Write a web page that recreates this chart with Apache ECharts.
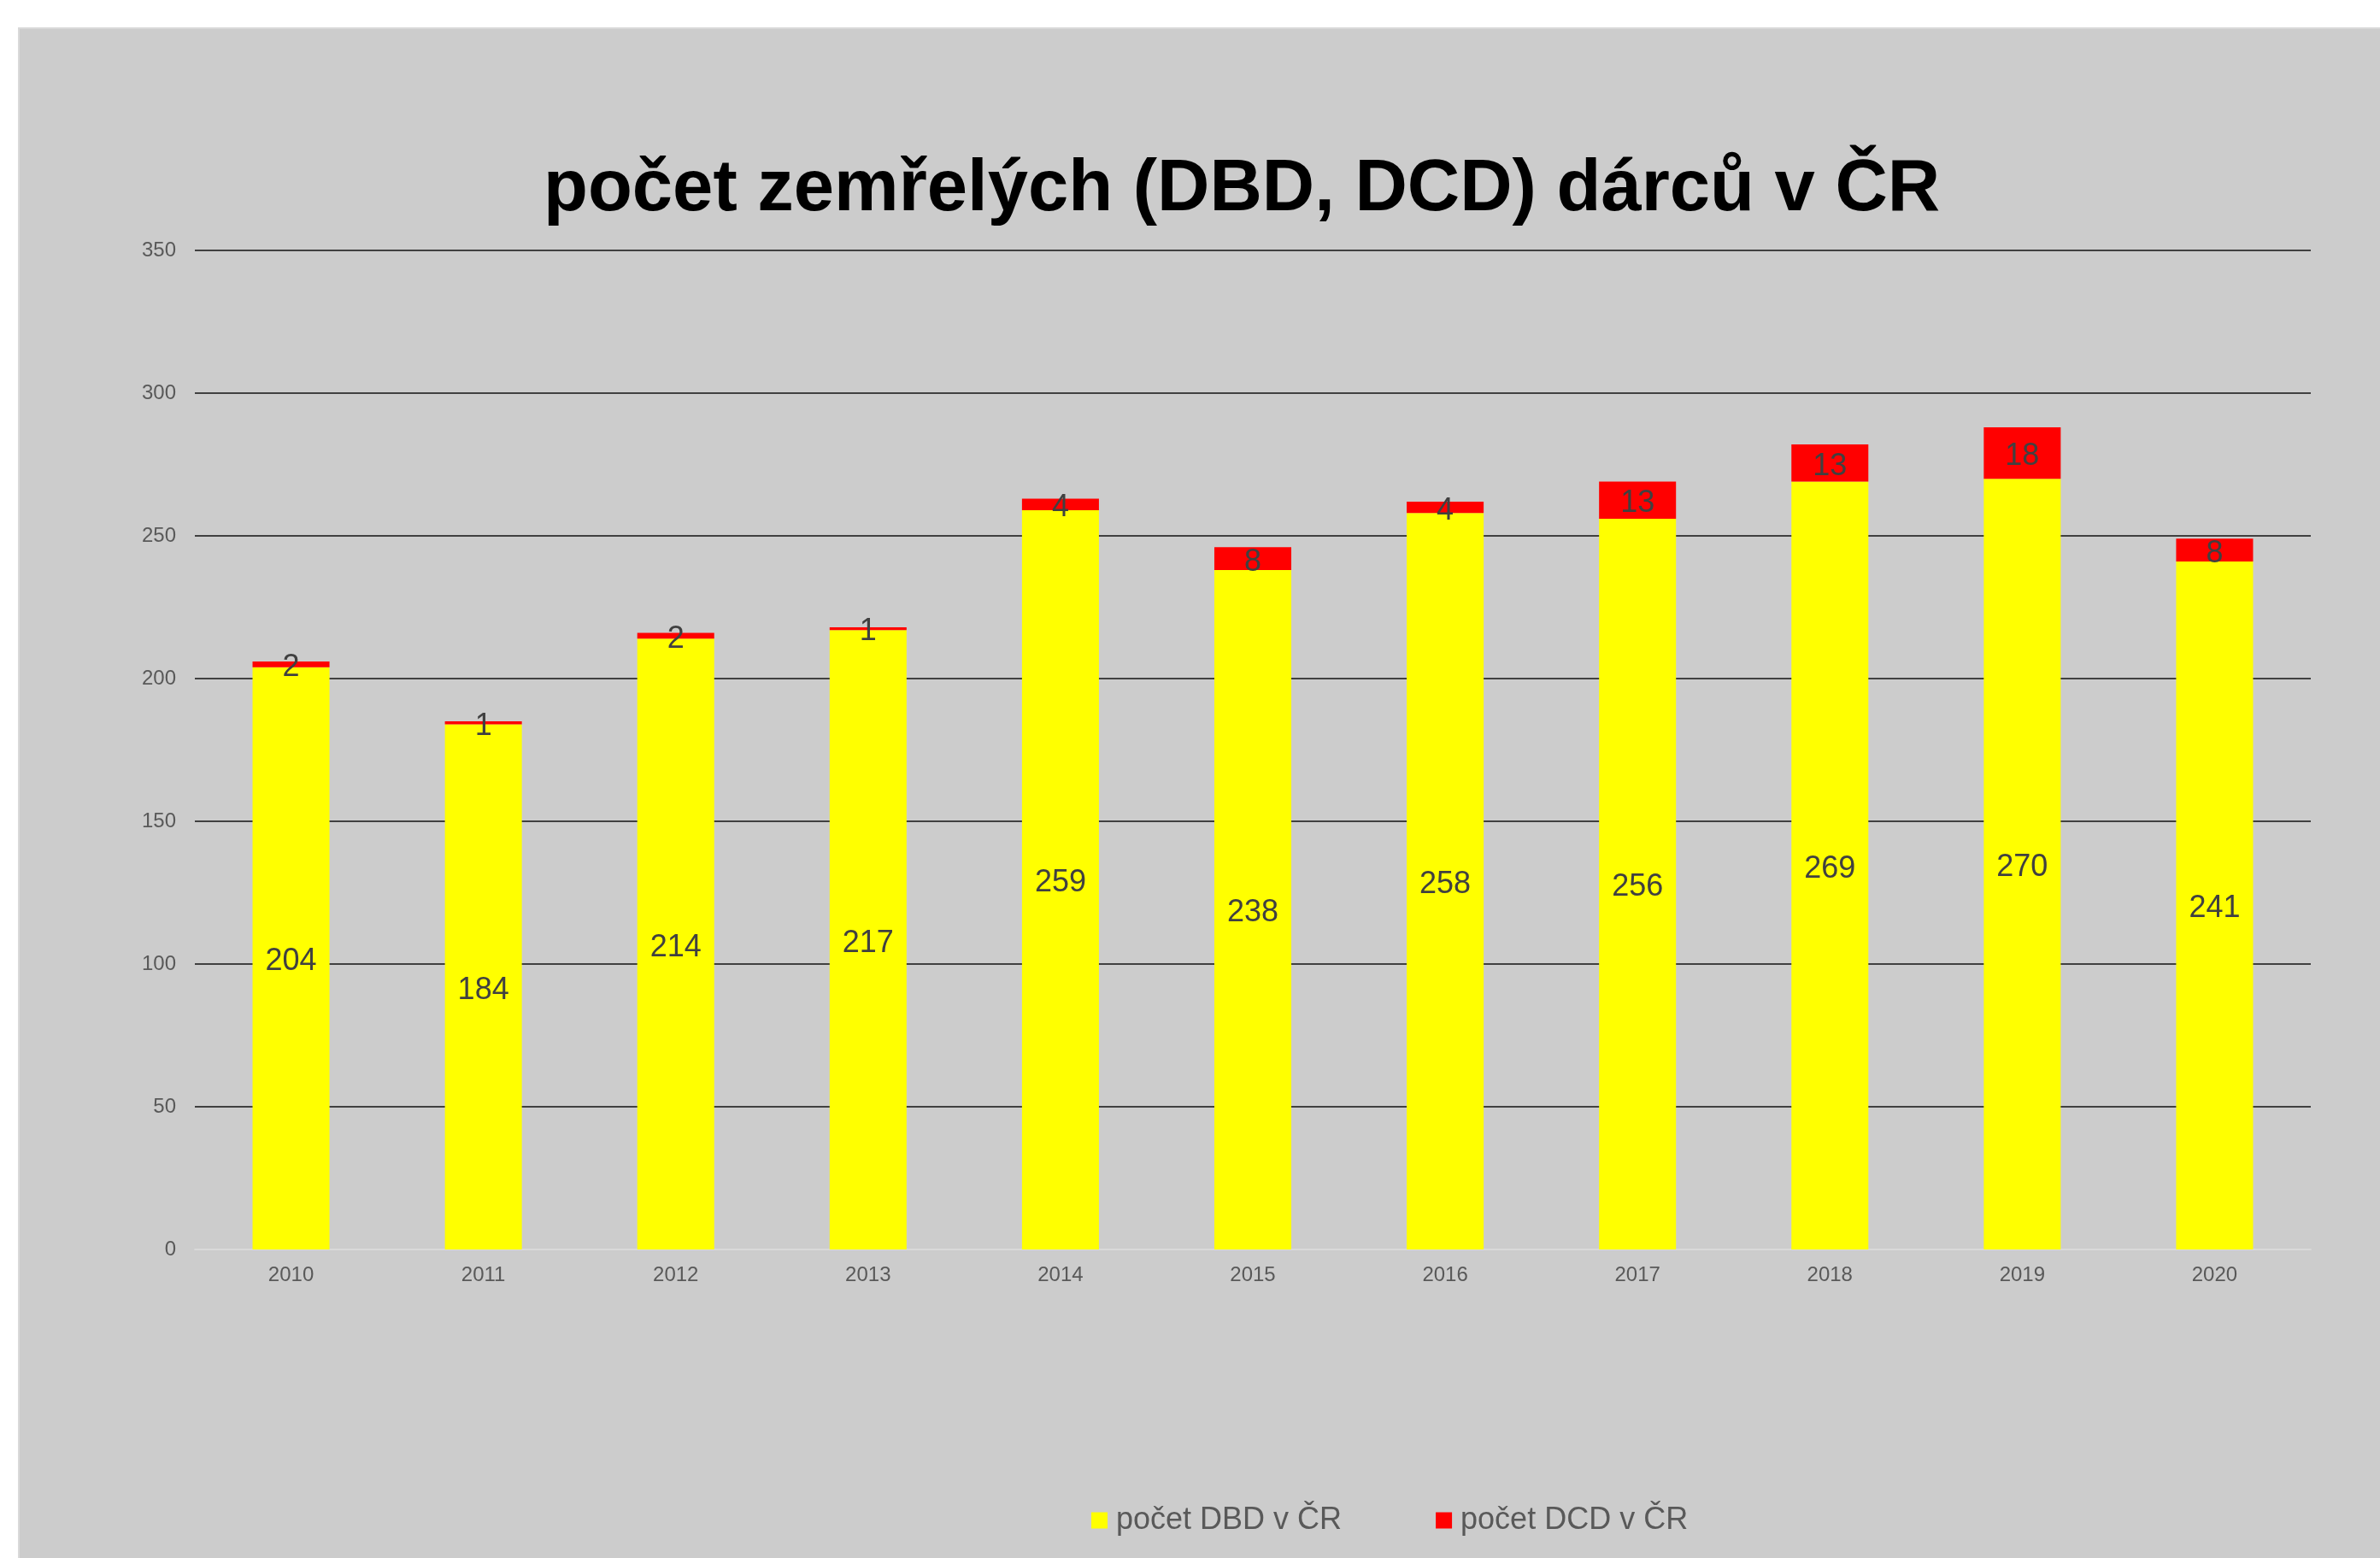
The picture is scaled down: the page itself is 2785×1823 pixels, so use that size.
<!DOCTYPE html>
<html>
<head>
<meta charset="utf-8">
<script src="https://cdn.jsdelivr.net/npm/echarts@6/dist/echarts.min.js"></script>
<style>
  html, body { margin: 0; padding: 0; background: #fff; }
  #chart { width: 2785px; height: 1823px; }
</style>
</head>
<body>
<div id="chart"></div>
<script>
const years = ['2010', '2011', '2012', '2013', '2014', '2015', '2016', '2017', '2018', '2019', '2020'];
const dbd = [204, 184, 214, 217, 259, 238, 258, 256, 269, 270, 241];
const dcd = [2, 1, 2, 1, 4, 8, 4, 13, 13, 18, 8];
const yTicks = { min: 0, max: 350, interval: 50 };

const font = '"Liberation Sans", Arial, sans-serif';
const labelStyle = {
    show: true,
    position: 'inside',
    offset: [0, 4],
    color: '#404040',
    fontSize: 36,
    fontFamily: font
};

const chart = echarts.init(document.getElementById('chart'));
chart.setOption({
    animation: false,
    backgroundColor: '#fff',
    graphic: [{
        type: 'rect',
        z: -10,
        shape: { x: 22, y: 33, width: 2800, height: 1800 },
        style: { fill: '#cccccc', stroke: '#d9d9d9', lineWidth: 2 }
    }],
    title: {
        text: 'počet zemřelých (DBD, DCD) dárců v ČR',
        left: 636,
        top: 180,
        padding: 0,
        textStyle: {
            color: '#000',
            fontSize: 85,
            fontWeight: 'bold',
            fontFamily: font
        }
    },
    legend: {
        left: 1277,
        top: 1761,
        padding: 0,
        itemWidth: 19,
        itemHeight: 19,
        itemGap: 110,
        icon: 'rect',
        textStyle: {
            color: '#595959',
            fontSize: 36,
            fontFamily: font,
            padding: [0, 0, 0, 5]
        },
        data: ['počet DBD v ČR', 'počet DCD v ČR']
    },
    grid: { left: 228, right: 81, top: 293, bottom: 361 },
    xAxis: {
        type: 'category',
        data: years,
        axisLine: { lineStyle: { color: '#d9d9d9', width: 2 } },
        axisTick: { show: false },
        axisLabel: { color: '#595959', fontSize: 24, fontFamily: font, margin: 18 }
    },
    yAxis: {
        type: 'value',
        min: yTicks.min,
        max: yTicks.max,
        interval: yTicks.interval,
        axisLine: { show: false },
        axisTick: { show: false },
        axisLabel: { color: '#595959', fontSize: 24, fontFamily: font, margin: 22 },
        splitLine: { lineStyle: { color: '#404040', width: 2 } }
    },
    series: [
        {
            name: 'počet DBD v ČR',
            type: 'bar',
            stack: 'total',
            barWidth: '40%',
            data: dbd,
            itemStyle: { color: '#ffff00' },
            label: labelStyle
        },
        {
            name: 'počet DCD v ČR',
            type: 'bar',
            stack: 'total',
            barWidth: '40%',
            data: dcd,
            itemStyle: { color: '#ff0000' },
            label: labelStyle
        }
    ]
});
</script>
</body>
</html>
